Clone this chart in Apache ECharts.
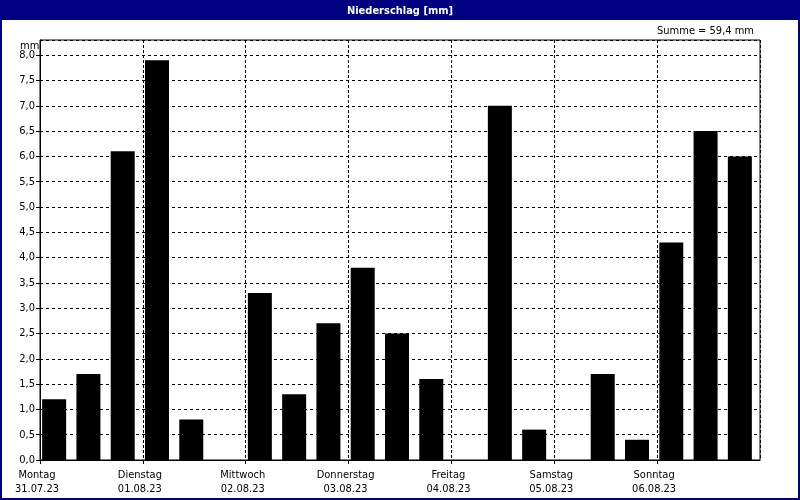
<!DOCTYPE html>
<html>
<head>
<meta charset="utf-8">
<script src="https://cdn.jsdelivr.net/npm/echarts@6/dist/echarts.min.js"></script>
<style>html,body{margin:0;padding:0;background:#fff}#c{width:800px;height:500px}</style>
</head>
<body>
<div id="c"></div>
<script>
const days = ['Montag','Dienstag','Mittwoch','Donnerstag','Freitag','Samstag','Sonntag'];
const dates = ['31.07.23','01.08.23','02.08.23','03.08.23','04.08.23','05.08.23','06.08.23'];
const slots = ['Mo 0','Mo 8','Mo 16','Di 0','Di 8','Di 16','Mi 0','Mi 8','Mi 16','Do 0','Do 8','Do 16','Fr 0','Fr 8','Fr 16','Sa 0','Sa 8','Sa 16','So 0','So 8','So 16'];
const values = [1.2,1.7,6.1,7.9,0.8,0,3.3,1.3,2.7,3.8,2.5,1.6,0,7.0,0.6,0,1.7,0.4,4.3,6.5,6.0];
const sumText = 'Summe = 59,4 mm';
const titleText = 'Niederschlag [mm]';

const FONT = "'Liberation Sans Narrow','DejaVu Sans Condensed','Liberation Sans',sans-serif";
const chart = echarts.init(document.getElementById('c'), null, {renderer:'canvas'});
const YMAX = 8.3;
chart.setOption({
  animation:false,
  backgroundColor:'#ffffff',
  title:{text:titleText,left:'center',top:1,textStyle:{color:'#ffffff',fontSize:11,fontWeight:'bold',fontFamily:FONT}},
  graphic:[
    {type:'rect',z:-10,shape:{x:0,y:0,width:800,height:20},style:{fill:'#000080'}},
    {type:'rect',z:-10,shape:{x:1,y:1,width:798,height:498},style:{fill:null,stroke:'#000080',lineWidth:2}},
    {type:'text',right:46,top:26,style:{text:sumText,fill:'#000',font:'11px '+FONT}},
    {type:'text',left:20,top:41,style:{text:'mm',fill:'#000',font:'11px '+FONT}}
  ],
  grid:[
    {left:40,right:40,top:40,bottom:40,show:true,borderColor:'#000',borderWidth:1,backgroundColor:'#fff'},
    {left:37,right:43,top:40,bottom:40}
  ],
  xAxis:[
    {type:'value',gridIndex:0,min:0,max:21,interval:3,
     axisLine:{show:true,lineStyle:{color:'#000',width:1}},
     axisTick:{show:true,length:4,lineStyle:{color:'#000'}},
     splitLine:{show:true,lineStyle:{color:'#000',type:[3,2],width:1}},
     axisLabel:{color:'#000',fontSize:11,fontFamily:FONT,lineHeight:14,margin:8,padding:[0,6,0,0],
       showMaxLabel:false,
       formatter:function(v){const i=Math.round(v/3); return i<days.length? days[i]+'\n'+dates[i]:'';}}},
    {type:'category',gridIndex:1,data:slots,boundaryGap:true,show:false}
  ],
  yAxis:[
    {type:'value',gridIndex:0,min:0,max:YMAX,interval:0.5,
     axisLine:{show:true,lineStyle:{color:'#000'}},
     axisTick:{show:true,length:4,lineStyle:{color:'#000'}},
     splitLine:{show:true,lineStyle:{color:'#000',type:[3,3],width:1}},
     axisLabel:{color:'#000',fontSize:11,fontFamily:FONT,margin:5,showMaxLabel:false,
       formatter:function(v){return v>8.01?'':v.toFixed(1).replace('.',',');}}},
    {type:'value',gridIndex:1,min:0,max:YMAX,show:false,splitLine:{show:false}}
  ],
  series:[{type:'bar',xAxisIndex:1,yAxisIndex:1,data:values,barWidth:24,
    itemStyle:{color:'#000000'},silent:true}]
});
</script>
</body>
</html>
